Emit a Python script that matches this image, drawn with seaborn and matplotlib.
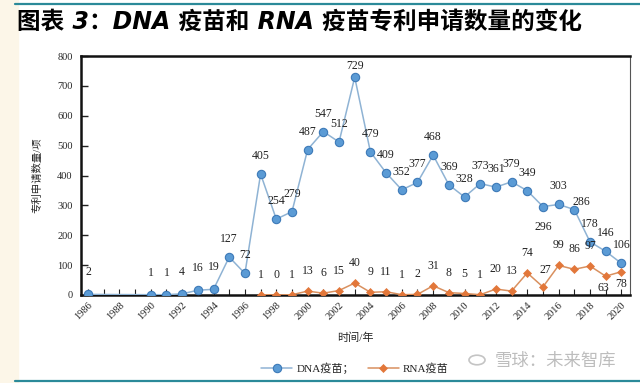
import matplotlib
matplotlib.use("Agg")
import matplotlib.pyplot as plt
import matplotlib.patches as mpatches
import matplotlib.lines as mlines
from matplotlib.ticker import MultipleLocator
import seaborn as sns

# Patent application counts
dna_years = [1986, 1990, 1991, 1992, 1993, 1994, 1995, 1996, 1997, 1998,
             1999, 2000, 2001, 2002, 2003, 2004, 2005, 2006, 2007, 2008,
             2009, 2010, 2011, 2012, 2013, 2014, 2015, 2016, 2017, 2018,
             2019, 2020]
dna_counts = [2, 1, 1, 4, 16, 19, 127, 72, 405, 254,
              279, 487, 547, 512, 729, 479, 409, 352, 377, 468,
              369, 328, 373, 361, 379, 349, 296, 303, 286, 178,
              146, 106]

rna_years = list(range(1997, 2021))
rna_counts = [1, 0, 1, 13, 6, 15, 40, 9, 11, 1, 2, 31,
              8, 5, 1, 20, 13, 74, 27, 99, 86, 97, 63, 78]

xtick_years = list(range(1986, 2021, 2))
yticks = list(range(0, 801, 100))

title = "图表 3：DNA 疫苗和 RNA 疫苗专利申请数量的变化"
ylabel = "专利申请数量/项"
xlabel = "时间/年"
dna_label = "DNA疫苗；"
rna_label = "RNA疫苗"
watermark = "雪球：未来智库"

SERIF_CJK = ["Liberation Serif", "Noto Sans CJK SC"]
SANS_CJK = ["DejaVu Sans", "Noto Sans CJK SC"]

DNA_LINE = "#8fb3d4"
DNA_FACE = "#5b9bd5"
DNA_EDGE = "#3d7ab8"
RNA_LINE = "#d9905f"
RNA_FACE = "#e2773a"
TEAL = "#2b8a99"

sns.set_theme(style="white")
plt.rcParams["font.family"] = SERIF_CJK
plt.rcParams["axes.unicode_minus"] = False

fig = plt.figure(figsize=(6.4, 3.83), dpi=100)
fig.patch.set_facecolor("white")

# cream left strip and teal rules, as in the source page
fig.add_artist(mpatches.Rectangle((0, 0), 18 / 640, 1, transform=fig.transFigure,
                                  color="#fcf6e8", zorder=0))
fig.add_artist(mlines.Line2D([15 / 640, 1], [1 - 4 / 383] * 2, transform=fig.transFigure,
                             color=TEAL, lw=1.6))
fig.add_artist(mlines.Line2D([15 / 640, 1], [1 - 381 / 383] * 2, transform=fig.transFigure,
                             color=TEAL, lw=1.6))

fig.text(17 / 640, 1 - 22 / 383, title, fontsize=17, fontweight="heavy",
         fontstyle="italic", family=SANS_CJK, color="#000000", va="center", ha="left")

ax = fig.add_axes([81 / 640, 1 - 295 / 383, (630 - 81) / 640, (295 - 56) / 383])

sns.lineplot(x=dna_years, y=dna_counts, ax=ax, color=DNA_LINE, lw=1.1,
             marker="o", markersize=6, markerfacecolor=DNA_FACE,
             markeredgecolor=DNA_EDGE, markeredgewidth=0.8, label=dna_label,
             zorder=3)
sns.lineplot(x=rna_years, y=rna_counts, ax=ax, color=RNA_LINE, lw=1.1,
             marker="D", markersize=4.2, markerfacecolor=RNA_FACE,
             markeredgecolor=RNA_FACE, markeredgewidth=0.5, label=rna_label,
             zorder=3)

ax.set_xlim(1985.55, 2020.55)
ax.set_ylim(0, 800)
ax.set_xticks(xtick_years)
ax.set_xticklabels([str(y) for y in xtick_years], rotation=45, ha="right",
                   rotation_mode="anchor", fontsize=7.5)
ax.xaxis.set_minor_locator(MultipleLocator(1))
ax.set_yticks(yticks)
ax.set_yticklabels([str(v) for v in yticks], fontsize=7.5)
ax.tick_params(axis="x", which="both", direction="in", length=4, width=0.8,
               bottom=True, pad=4, color="#222222")
ax.tick_params(axis="y", which="major", direction="in", length=5, width=1,
               left=True, pad=6, color="#222222")

for side in ("left", "bottom", "top"):
    ax.spines[side].set_color("#111111")
    ax.spines[side].set_linewidth(1.8)
ax.spines["right"].set_color("#555555")
ax.spines["right"].set_linewidth(0.8)

ax.set_ylabel(ylabel, family=SERIF_CJK, fontsize=7.5, labelpad=11)
ax.set_xlabel(xlabel, family=SERIF_CJK, fontsize=8, labelpad=8)

# data labels, offsets in pixels (dx, dy) relative to the marker
PX = 0.72
dna_offsets = {1986: (0, 22), 1990: (0, 22), 1991: (0, 22), 1992: (0, 22),
               1993: (0, 22), 1994: (0, 22), 2003: (0, 11), 2015: (0, -20),
               2017: (7, 8)}
rna_offsets = {2019: (-2, -12), 2020: (0, -12), 2015: (2, 17)}

for yr, v in zip(dna_years, dna_counts):
    dx, dy = dna_offsets.get(yr, (0, 18))
    ax.annotate(str(v), (yr, v), xytext=(dx * PX, dy * PX), textcoords="offset points",
                ha="center", va="center", fontsize=8.5, color="#222222",
                annotation_clip=False, zorder=4)
for yr, v in zip(rna_years, rna_counts):
    dx, dy = rna_offsets.get(yr, (0, 20))
    ax.annotate(str(v), (yr, v), xytext=(dx * PX, dy * PX), textcoords="offset points",
                ha="center", va="center", fontsize=8.5, color="#222222",
                annotation_clip=False, zorder=4)

handles, labels = ax.get_legend_handles_labels()
ax.legend_.remove()
fig.legend(handles, labels, loc="center", bbox_to_anchor=(355 / 640, 1 - 368 / 383),
           ncol=2, frameon=False, prop={"family": SERIF_CJK, "size": 8},
           handlelength=2.8, columnspacing=1.2, handletextpad=0.4)

fig.text(495 / 640, 1 - 361 / 383, watermark, fontsize=12.5, family=SANS_CJK,
         color="#bdbdbd", va="center", ha="left")
fig.add_artist(mpatches.Circle((477 / 640, 1 - 360 / 383), 8 / 640,
                               transform=fig.transFigure, fill=False,
                               edgecolor="#c4c4c4", lw=1.2))

fig.savefig("out.png", dpi=100)
plt.close(fig)
